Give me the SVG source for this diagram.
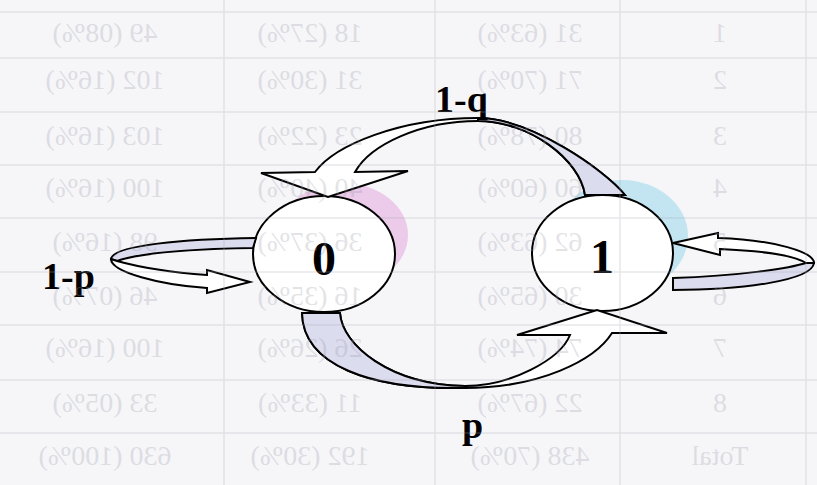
<svg xmlns="http://www.w3.org/2000/svg" width="817" height="485" viewBox="0 0 817 485">
<style>
.bg{fill:#f6f6f9}
.ln{stroke:#000;stroke-width:2;stroke-linejoin:miter;fill:#fff}
.sh{fill:#dcdcef;stroke:#000;stroke-width:2;stroke-linejoin:miter}
.node{fill:#fff;stroke:#000;stroke-width:2}
.pink{fill:#eccae9}
.cyan{fill:#c2e5f1}
.nl{font-family:"Liberation Serif","Times New Roman",serif;font-weight:bold;font-size:48px;text-anchor:middle;fill:#000}
.el{font-family:"Liberation Serif","Times New Roman",serif;font-weight:bold;font-size:38px;fill:#000}
.ghost text{font-family:"Liberation Serif","Times New Roman",serif;font-size:28px;fill:#9a9aa6;text-anchor:middle}
.ghost line{stroke:#a8a8b4;stroke-width:1.5}
</style>
<rect class="bg" x="0" y="0" width="817" height="485"/>

<g id="node0">
  <ellipse class="pink" cx="343" cy="235" rx="65" ry="52"/>
  <ellipse class="node" cx="324" cy="254" rx="71" ry="58"/>
  <text class="nl" x="324" y="275">0</text>
</g>
<g id="node1">
  <ellipse class="cyan" cx="622" cy="236" rx="66" ry="56"/>
  <ellipse class="node" cx="602.5" cy="253" rx="70.5" ry="58"/>
  <text class="nl" x="602" y="273">1</text>
</g>

<g id="connectors">
  <g id="edge-1-0">
    <path class="ln" d="M315,172 C335,145 400,118 478,118 C530,118 605,170 625,195 L585,195 C580,160 530,121 478,121 C420,121 370,145 355,172 L408,171 L328,197 L261,173 Z"/>
    <path class="sh" d="M478,118 C530,118 605,170 625,195 L585,195 C580,160 530,121 478,121 Z"/>
    <text class="el" x="435" y="112">1-q</text>
  </g>
  <g id="edge-0-1">
    <path class="ln" d="M302,313 C303,365 370,390 465,388 C540,388 595,360 612,333 L667,333 L597,310 L517,335 L570,335 C560,360 510,386 465,386 C390,385 342,345 340,313 Z"/>
    <path class="sh" d="M302,313 C303,365 370,390 465,388 L465,386 C390,385 342,345 340,313 Z"/>
    <text class="el" x="462" y="438">p</text>
  </g>
  <g id="edge-0-0">
    <path class="sh" d="M256,238 C185,239 113,245 111,259 L117,261 C140,253 190,249 253,248 Z"/>
    <path class="ln" d="M111,259 C111,272 160,285 207,288 L207,293 L250,282 L207,270 L207,275 C165,272 135,266 117,261 Z"/>
    <text class="el" x="42" y="289">1-p</text>
  </g>
  <g id="edge-1-1">
    <path class="ln" d="M814,263 C814,252 775,240 718,238 L718,233 L673,243 L720,255 L720,249 C765,251 795,256 806,263 Z"/>
    <path class="sh" d="M806,263 C790,268 740,276 673,278 L673,290 C745,290 812,280 814,263 Z"/>
  </g>
</g>

<g class="ghost" opacity="0.27" transform="matrix(-1 0 0 1 817 0)">
  <line x1="0" y1="12" x2="817" y2="12"/>
  <line x1="0" y1="58" x2="817" y2="58"/>
  <line x1="0" y1="112" x2="817" y2="112"/>
  <line x1="0" y1="165" x2="817" y2="165"/>
  <line x1="0" y1="218" x2="817" y2="218"/>
  <line x1="0" y1="272" x2="817" y2="272"/>
  <line x1="0" y1="325" x2="817" y2="325"/>
  <line x1="0" y1="380" x2="817" y2="380"/>
  <line x1="0" y1="433" x2="817" y2="433"/>
  <line x1="593" y1="0" x2="593" y2="485"/>
  <line x1="382" y1="0" x2="382" y2="485"/>
  <line x1="197" y1="0" x2="197" y2="485"/>
  <line x1="11" y1="0" x2="11" y2="485"/>
  <text x="97" y="42">1</text><text x="287" y="42">31 (63%)</text><text x="507" y="42">18 (27%)</text><text x="712" y="42">49 (08%)</text>
  <text x="97" y="89">2</text><text x="287" y="89">71 (70%)</text><text x="507" y="89">31 (30%)</text><text x="712" y="89">102 (16%)</text>
  <text x="97" y="145">3</text><text x="287" y="145">80 (78%)</text><text x="507" y="145">23 (22%)</text><text x="712" y="145">103 (16%)</text>
  <text x="97" y="197">4</text><text x="287" y="197">60 (60%)</text><text x="507" y="197">40 (40%)</text><text x="712" y="197">100 (16%)</text>
  <text x="97" y="251">5</text><text x="287" y="251">62 (63%)</text><text x="507" y="251">36 (37%)</text><text x="712" y="251">98 (16%)</text>
  <text x="97" y="305">6</text><text x="287" y="305">30 (65%)</text><text x="507" y="305">16 (35%)</text><text x="712" y="305">46 (07%)</text>
  <text x="97" y="357">7</text><text x="287" y="357">74 (74%)</text><text x="507" y="357">26 (26%)</text><text x="712" y="357">100 (16%)</text>
  <text x="97" y="412">8</text><text x="287" y="412">22 (67%)</text><text x="507" y="412">11 (33%)</text><text x="712" y="412">33 (05%)</text>
  <text x="97" y="465">Total</text><text x="287" y="465">438 (70%)</text><text x="507" y="465">192 (30%)</text><text x="712" y="465">630 (100%)</text>
</g>
</svg>
